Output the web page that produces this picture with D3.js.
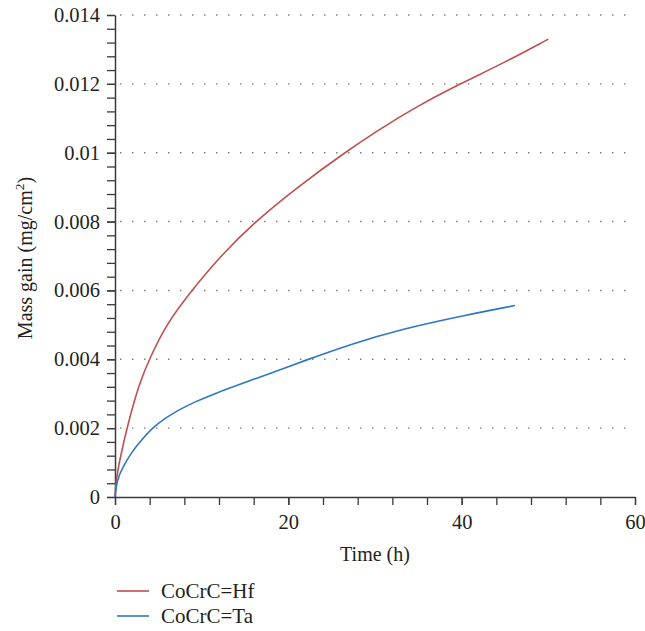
<!DOCTYPE html>
<html>
<head>
<meta charset="utf-8">
<script src="https://cdn.jsdelivr.net/npm/d3@7"></script>
</head>
<body style="margin:0;background:#fff">
<svg id="chart" width="645" height="631" style="display:block"></svg>
<script>
// ---- data ----
const seriesNames = ["CoCrC=Hf", "CoCrC=Ta"];
const seriesColors = ["#c0504d", "#2e78c2"];

const hfTime = [0, 0.12, 0.62, 1.38, 2.15, 2.92, 4.04, 6, 8.85, 12.1, 16.15, 21.35, 26.5, 30.2, 35, 39.8, 44.8, 50];
const hfGain = [0, 0.00049, 0.00117, 0.002, 0.00272, 0.00336, 0.00405, 0.00505, 0.006, 0.00698, 0.008, 0.00906, 0.01, 0.01063, 0.01137, 0.012, 0.0126, 0.0133];

const taTime = [0, 0.23, 0.81, 1.96, 3.1, 4.27, 5.8, 7.35, 9.27, 11.2, 13.5, 15.6, 22.3, 27.1, 32.9, 40.6, 46.15];
const taGain = [0, 0.00049, 0.00083, 0.00132, 0.00166, 0.002, 0.00229, 0.00253, 0.00277, 0.00297, 0.00319, 0.00338, 0.004, 0.00443, 0.00487, 0.00529, 0.00556];

const xTicks = [0, 20, 40, 60];
const yTicks = [0, 0.002, 0.004, 0.006, 0.008, 0.01, 0.012, 0.014];
const yTickLabels = ["0", "0.002", "0.004", "0.006", "0.008", "0.01", "0.012", "0.014"];

// ---- layout ----
const FONT = '"Liberation Serif"';
const svg = d3.select("#chart");
const x0 = 115, x1 = 635;
const y0 = 497, y1 = 15;

const x = d3.scaleLinear().domain([0, 60]).range([x0, x1]);
const y = d3.scaleLinear().domain([0, 0.014]).range([y0, y1]);

const axisColor = "#3a3a3a";
const textColor = "#231f20";

// grid (dotted)
svg.append("g").selectAll("line")
  .data(yTicks.filter(d => d > 0))
  .join("line")
  .attr("x1", x0 + 5).attr("x2", x1)
  .attr("y1", d => y(d)).attr("y2", d => y(d))
  .attr("stroke", "#7f7f7f")
  .attr("stroke-width", 1.4)
  .attr("stroke-dasharray", "1.5,10.5");

// y minor ticks
const yMinor = d3.range(0, 0.01400001, 0.0004);
svg.append("g")
  .attr("transform", `translate(${x0},0)`)
  .call(d3.axisLeft(y).tickValues(yMinor).tickSize(8).tickFormat(""))
  .call(g => g.select(".domain").remove())
  .call(g => g.selectAll("line").attr("stroke", axisColor).attr("stroke-width", 1.3));

// y major axis
svg.append("g")
  .attr("transform", `translate(${x0},0)`)
  .call(d3.axisLeft(y).tickValues(yTicks).tickSize(8).tickSizeOuter(0).tickPadding(7)
    .tickFormat((d, i) => yTickLabels[i]))
  .call(g => g.select(".domain").attr("stroke", axisColor).attr("stroke-width", 1.5))
  .call(g => g.selectAll("line").attr("stroke", axisColor).attr("stroke-width", 1.3))
  .call(g => g.selectAll("text").style("font-size", "20.5px").attr("fill", textColor)
    .style("font-family", FONT));

// x minor ticks
const xMinor = d3.range(0, 60.001, 4);
svg.append("g")
  .attr("transform", `translate(0,${y0})`)
  .call(d3.axisBottom(x).tickValues(xMinor).tickSize(8).tickFormat(""))
  .call(g => g.select(".domain").remove())
  .call(g => g.selectAll("line").attr("stroke", axisColor).attr("stroke-width", 1.3));

// x major axis
svg.append("g")
  .attr("transform", `translate(0,${y0})`)
  .call(d3.axisBottom(x).tickValues(xTicks).tickSize(8).tickSizeOuter(0).tickPadding(9)
    .tickFormat(d3.format("d")))
  .call(g => g.select(".domain").attr("stroke", axisColor).attr("stroke-width", 1.5))
  .call(g => g.selectAll("line").attr("stroke", axisColor).attr("stroke-width", 1.3))
  .call(g => g.selectAll("text").style("font-size", "20.5px").attr("fill", textColor)
    .style("font-family", FONT));

// curves
const line = d3.line().x(d => x(d[0])).y(d => y(d[1])).curve(d3.curveBasis);
const series = [
  d3.zip(hfTime, hfGain),
  d3.zip(taTime, taGain)
];
svg.append("g").selectAll("path")
  .data(series)
  .join("path")
  .attr("d", line)
  .attr("fill", "none")
  .attr("stroke", (d, i) => seriesColors[i])
  .attr("stroke-width", 1.6);

// axis titles
svg.append("text")
  .attr("x", (x0 + x1) / 2).attr("y", 561)
  .attr("text-anchor", "middle")
  .attr("fill", textColor)
  .style("font-family", FONT)
  .style("font-size", "20px")
  .text("Time (h)");

const yt = svg.append("text")
  .attr("transform", `translate(32,${(y0 + y1) / 2 + 2}) rotate(-90)`)
  .attr("text-anchor", "middle")
  .attr("fill", textColor)
  .style("font-family", FONT)
  .style("font-size", "20px");
yt.append("tspan").text("Mass gain (mg/cm");
yt.append("tspan").attr("dy", -8).style("font-size", "13.5px").text("2");
yt.append("tspan").attr("dy", 8).text(")");

// legend
const leg = svg.append("g").selectAll("g")
  .data(seriesNames)
  .join("g")
  .attr("transform", (d, i) => `translate(0,${591 + i * 25})`);
leg.append("line")
  .attr("x1", 117).attr("x2", 149)
  .attr("y1", 0).attr("y2", 0)
  .attr("stroke", (d, i) => seriesColors[i])
  .attr("stroke-width", 1.6);
leg.append("text")
  .attr("x", 161).attr("y", 7)
  .attr("fill", textColor)
  .style("font-family", FONT)
  .style("font-size", "21px")
  .text(d => d);
</script>
</body>
</html>
